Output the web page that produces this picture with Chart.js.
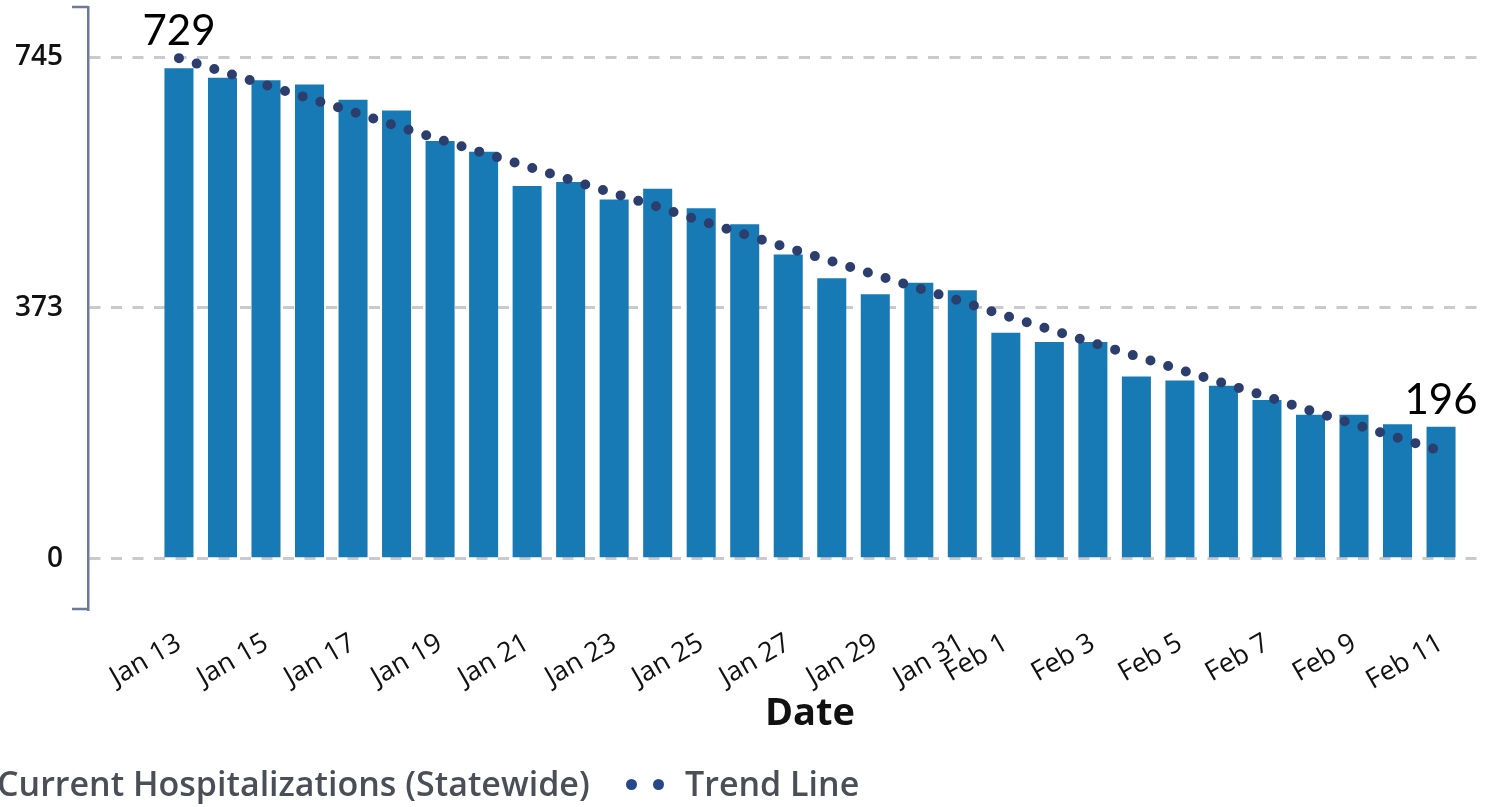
<!DOCTYPE html>
<html>
<head>
<meta charset="utf-8">
<title>Current Hospitalizations (Statewide)</title>
<script src="https://cdn.jsdelivr.net/npm/chart.js@4.4.1/dist/chart.umd.min.js"></script>
<style>
    html, body { margin: 0; padding: 0; background: #fff; overflow: hidden; }
    #wrap { position: relative; width: 1532px; height: 807px; }
    .lg { position: absolute; top: 766px; font: 600 34px 'Open Sans', sans-serif; line-height: 34px; color: #4a4f57; white-space: nowrap; }
    .dot { position: absolute; top: 779px; width: 11px; height: 11px; border-radius: 50%; background: #27478a; }
</style>
</head>
<body>
<div id="wrap">
    <canvas id="hospChart"></canvas>
    <div class="lg" style="left:-3px">Current Hospitalizations (Statewide)</div>
    <span class="dot" style="left:626px"></span>
    <span class="dot" style="left:653px"></span>
    <div class="lg" style="left:685px">Trend Line</div>
</div>
<script>
// daily values
const dates = ['Jan 13', 'Jan 14', 'Jan 15', 'Jan 16', 'Jan 17', 'Jan 18', 'Jan 19', 'Jan 20',
    'Jan 21', 'Jan 22', 'Jan 23', 'Jan 24', 'Jan 25', 'Jan 26', 'Jan 27', 'Jan 28', 'Jan 29',
    'Jan 30', 'Jan 31', 'Feb 1', 'Feb 2', 'Feb 3', 'Feb 4', 'Feb 5', 'Feb 6', 'Feb 7', 'Feb 8',
    'Feb 9', 'Feb 10', 'Feb 11'];
const hospitalizations = [729, 715, 711, 705, 682, 666, 621, 605, 554, 560, 534, 550, 521, 497, 452,
    417, 393, 410, 399, 336, 322, 322, 271, 265, 257, 236, 214, 214, 200, 196];
const trendLine = [744, 724, 704, 684, 664, 643, 623, 603, 583, 563, 543, 523, 502, 482, 462,
    442, 422, 402, 382, 361, 341, 321, 301, 281, 261, 241, 220, 200, 180, 160];
const tickDates = ['Jan 13', 'Jan 15', 'Jan 17', 'Jan 19', 'Jan 21', 'Jan 23', 'Jan 25', 'Jan 27',
    'Jan 29', 'Jan 31', 'Feb 1', 'Feb 3', 'Feb 5', 'Feb 7', 'Feb 9', 'Feb 11'];
const yTicks = [0, 373, 745];
const labelled = [0, 29];

// little end caps on the y axis line
const axisHooks = {
    id: 'axisHooks',
    afterDraw(chart) {
        const { ctx, chartArea } = chart;
        ctx.save();
        ctx.strokeStyle = '#6c7999';
        ctx.lineWidth = 2.5;
        ctx.beginPath();
        ctx.moveTo(chartArea.left - 16, chartArea.top);
        ctx.lineTo(chartArea.left, chartArea.top);
        ctx.moveTo(chartArea.left - 16, chartArea.bottom);
        ctx.lineTo(chartArea.left, chartArea.bottom);
        ctx.stroke();
        ctx.restore();
    }
};

// first / last value written above the marks
const endLabels = {
    id: 'endLabels',
    afterDatasetsDraw(chart) {
        const { ctx } = chart;
        const bars = chart.getDatasetMeta(1).data;
        const yScale = chart.scales.y;
        ctx.save();
        ctx.font = '42px Lato';
        ctx.fillStyle = '#000';
        ctx.textAlign = 'center';
        ctx.textBaseline = 'alphabetic';
        labelled.forEach(i => {
            const top = Math.min(bars[i].y, yScale.getPixelForValue(trendLine[i]));
            ctx.fillText(String(hospitalizations[i]), bars[i].x, top - 13);
        });
        ctx.restore();
    }
};

const ctx = document.getElementById('hospChart').getContext('2d');
new Chart(ctx, {
    type: 'bar',
    data: {
        datasets: [{
            type: 'line',
            label: 'Trend Line',
            data: dates.map((d, i) => ({ x: i, y: trendLine[i] })),
            borderColor: '#2c3e6e',
            borderWidth: 10,
            borderDash: [0, 18.5],
            borderCapStyle: 'round',
            pointRadius: 0,
            fill: false,
            tension: 0,
            order: 0
        }, {
            type: 'bar',
            label: 'Current Hospitalizations (Statewide)',
            data: dates.map((d, i) => ({ x: i, y: hospitalizations[i] })),
            backgroundColor: '#187ab4',
            barPercentage: 1,
            categoryPercentage: 0.667,
            order: 1
        }]
    },
    options: {
        responsive: true,
        maintainAspectRatio: false,
        animation: false,
        layout: { padding: { top: 7, bottom: 74, left: 0, right: 0 } },
        plugins: {
            legend: { display: false },
            tooltip: { enabled: false }
        },
        scales: {
            x: {
                type: 'linear',
                offset: false,
                min: -2.09,
                max: 31.09,
                grid: { display: false },
                border: { display: false },
                afterBuildTicks: s => { s.ticks = tickDates.map(t => ({ value: dates.indexOf(t) })); },
                afterFit: s => { s.height = 124; s.paddingLeft = 0; s.paddingRight = 0; },
                ticks: {
                    autoSkip: false,
                    minRotation: 30,
                    maxRotation: 30,
                    padding: 10,
                    color: '#111',
                    font: { family: 'Open Sans', size: 27, weight: 500 },
                    callback: v => dates[v]
                },
                title: {
                    display: true,
                    text: 'Date',
                    color: '#111',
                    padding: 0,
                    font: { family: 'Open Sans', size: 38, weight: 'bold', lineHeight: 1 }
                }
            },
            y: {
                min: -74.7,
                max: 820,
                afterBuildTicks: s => { s.ticks = yTicks.map(v => ({ value: v })); },
                afterFit: s => { s.width = 88; s.paddingTop = 0; s.paddingBottom = 0; },
                grid: { color: '#c9c9cf', lineWidth: 3, drawTicks: false },
                border: { color: '#6c7999', width: 2.5, dash: [11, 10.5] },
                ticks: {
                    padding: 25,
                    color: '#111',
                    font: { family: 'Open Sans', size: 28, weight: 600 }
                }
            }
        }
    },
    plugins: [axisHooks, endLabels]
});
</script>
</body>
</html>
